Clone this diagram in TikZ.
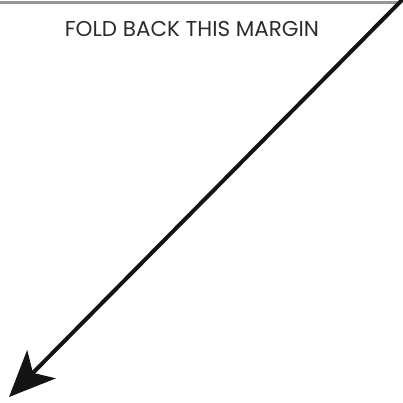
\documentclass[tikz,border=0pt]{standalone}
\usepackage{fontspec}
\setmainfont{Poppins}
\definecolor{foldgray}{RGB}{150,150,150}
\definecolor{inkblack}{RGB}{20,20,20}
\usetikzlibrary{arrows.meta,positioning}

\begin{document}
\begin{tikzpicture}[x=1pt,y=-1pt,>={Stealth[length=46pt,width=40pt,inset=12pt]}]
  \tikzstyle{foldline}=[draw=foldgray,line width=3pt]
  \tikzstyle{foldtext}=[inner sep=0pt,anchor=base,font=\fontsize{21.5}{24}\selectfont,text=inkblack!90]
  \useasboundingbox (0,0) rectangle (403,402);
  \coordinate (ruleL) at (0,2.5);
  \coordinate (ruleR) at (397,2.5);
  \node[foldtext] (margin) at (192,36.5) {FOLD BACK THIS MARGIN};
  \coordinate (start) at (405,-3);
  \coordinate (tip) at (9,397);

  \draw[foldline] (ruleL) -- (ruleR);
  \draw[->,draw=inkblack,line width=4pt] (start) -- (tip);
\end{tikzpicture}
\end{document}
